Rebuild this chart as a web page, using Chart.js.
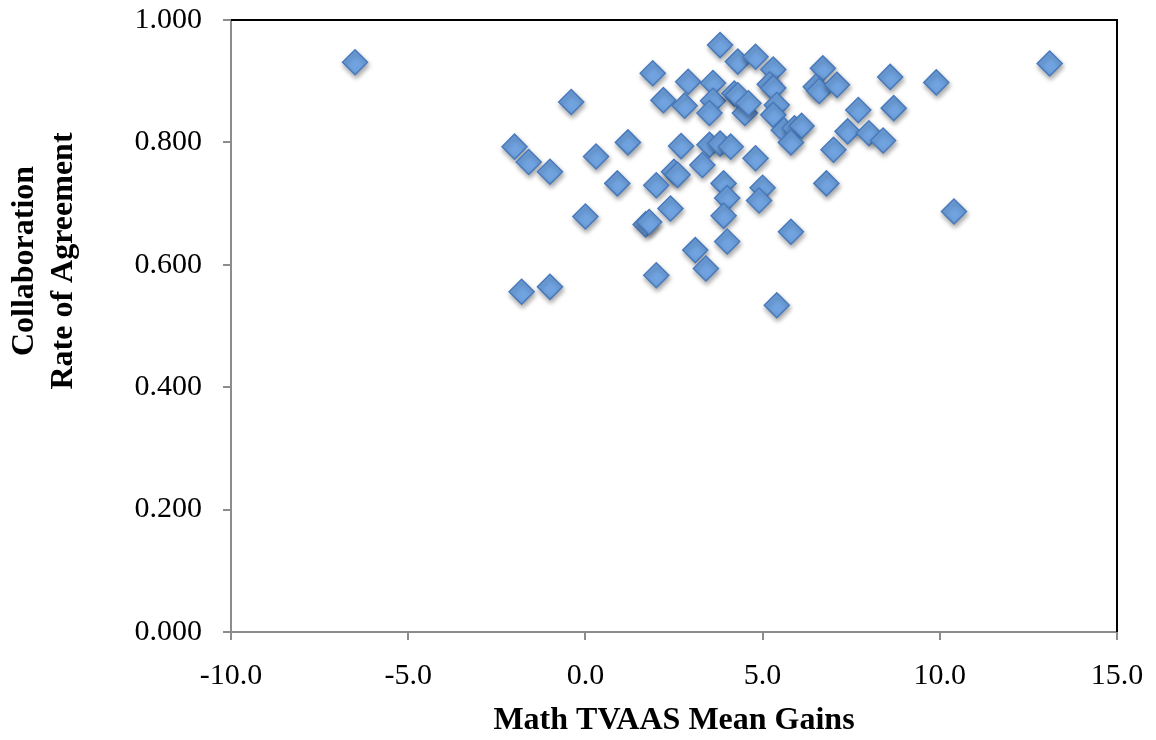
<!DOCTYPE html>
<html>
<head>
<meta charset="utf-8">
<script src="https://cdn.jsdelivr.net/npm/chart.js@4.4.0/dist/chart.umd.min.js"></script>
<style>
  html, body { margin: 0; padding: 0; background: #fff; }
  #wrap { width: 1156px; height: 740px; }
</style>
</head>
<body>
<div id="wrap"><canvas id="myChart" width="1156" height="740"></canvas></div>
<script>
// x: Math TVAAS mean gains, y: collaboration rate of agreement
var gains = [
  -6.5, 13.1, 9.9, 10.4, -0.4, 1.9, 3.8, 2.9, 3.6, 2.2,
  2.8, 3.6, 3.5, -2.0, -1.6, -1.0, 1.2, 0.3, 0.9, 2.7,
  3.5, 3.3, 2.5, 2.6, 2.0, 2.4, 0.0, 1.7, 1.8, 3.1,
  3.4, 2.0, -1.8, -1.0, 4.3, 4.8, 5.3, 5.2, 5.3, 6.7,
  6.5, 6.6, 7.1, 8.6, 4.2, 4.3, 4.5, 4.6, 5.4, 5.3,
  5.6, 5.9, 6.1, 5.8, 7.7, 7.4, 8.0, 8.4, 8.7, 7.0,
  6.8, 3.8, 4.1, 4.8, 3.9, 4.0, 5.0, 4.9, 3.9, 4.0,
  5.8, 5.4
];
var agreement = [
  0.931, 0.929, 0.898, 0.687, 0.866, 0.913, 0.959, 0.899, 0.897, 0.869,
  0.860, 0.868, 0.848, 0.793, 0.768, 0.752, 0.800, 0.777, 0.733, 0.794,
  0.796, 0.763, 0.752, 0.747, 0.730, 0.692, 0.679, 0.666, 0.670, 0.624,
  0.594, 0.583, 0.556, 0.564, 0.932, 0.940, 0.919, 0.895, 0.889, 0.921,
  0.891, 0.884, 0.894, 0.907, 0.880, 0.877, 0.848, 0.864, 0.861, 0.845,
  0.820, 0.823, 0.827, 0.800, 0.853, 0.818, 0.815, 0.803, 0.856, 0.788,
  0.733, 0.798, 0.793, 0.774, 0.733, 0.709, 0.726, 0.705, 0.680, 0.638,
  0.654, 0.534
];
var xTicks = [-10, -5, 0, 5, 10, 15];
var yTicks = [0, 0.2, 0.4, 0.6, 0.8, 1.0];

var xTitle = "Math TVAAS Mean Gains";
var yTitle = ["Collaboration", "Rate of Agreement"];

var serif = '"Liberation Serif", "Times New Roman", serif';
var axisGray = "#8c8c8c";

var points = gains.map(function (g, i) {
  return { x: g, y: agreement[i] };
});

// soft shadow under the diamonds
var shadowPlugin = {
  id: "markerShadow",
  beforeDatasetsDraw: function (chart) {
    var c = chart.ctx;
    c.save();
    c.shadowColor = "rgba(0,0,0,0.35)";
    c.shadowBlur = 5;
    c.shadowOffsetX = 1;
    c.shadowOffsetY = 3;
  },
  afterDatasetsDraw: function (chart) {
    chart.ctx.restore();
  },
};

// black frame on top/right + axis titles
var framePlugin = {
  id: "frameAndTitles",
  afterDraw: function (chart) {
    var c = chart.ctx;
    var a = chart.chartArea;
    c.save();
    c.strokeStyle = "#000";
    c.lineWidth = 2;
    c.beginPath();
    c.moveTo(a.left, a.top);
    c.lineTo(a.right, a.top);
    c.lineTo(a.right, a.bottom);
    c.stroke();

    c.fillStyle = "#000";
    c.font = "bold 32px " + serif;
    c.textAlign = "center";
    c.textBaseline = "middle";
    c.fillText(xTitle, (a.left + a.right) / 2, 721);

    c.translate(0, 261);
    c.rotate(-Math.PI / 2);
    c.fillText(yTitle[0], 0, 25);
    c.fillText(yTitle[1], 0, 64);
    c.restore();
  },
};

new Chart(document.getElementById("myChart"), {
  type: "scatter",
  data: {
    datasets: [
      {
        data: points,
        pointStyle: "rectRot",
        pointRadius: 12.5,
        pointHoverRadius: 12.5,
        backgroundColor: "rgb(112,163,224)",
        borderColor: "rgb(72,122,188)",
        borderWidth: 1.5,
      },
    ],
  },
  options: {
    responsive: false,
    animation: false,
    layout: { padding: { top: 20, right: 39, left: 0, bottom: 0 } },
    plugins: {
      legend: { display: false },
      tooltip: { enabled: false },
    },
    scales: {
      x: {
        type: "linear",
        min: -10,
        max: 15,
        afterBuildTicks: function (scale) {
          scale.ticks = xTicks.map(function (v) { return { value: v }; });
        },
        afterFit: function (scale) {
          scale.height = 108;
          scale.paddingLeft = 0;
          scale.paddingRight = 0;
        },
        ticks: {
          padding: 18,
          color: "#000",
          font: { family: serif, size: 30 },
          maxRotation: 0,
          callback: function (v) { return Number(v).toFixed(1); },
        },
        grid: {
          drawOnChartArea: false,
          tickLength: 8,
          color: axisGray,
          lineWidth: 2,
        },
        border: { color: axisGray, width: 2 },
      },
      y: {
        type: "linear",
        min: 0,
        max: 1,
        afterBuildTicks: function (scale) {
          scale.ticks = yTicks.map(function (v) { return { value: v }; });
        },
        afterFit: function (scale) {
          scale.width = 231;
          scale.paddingTop = 0;
          scale.paddingBottom = 0;
        },
        ticks: {
          padding: 21,
          color: "#000",
          font: { family: serif, size: 30 },
          callback: function (v) { return Number(v).toFixed(3); },
        },
        grid: {
          drawOnChartArea: false,
          tickLength: 8,
          color: axisGray,
          lineWidth: 2,
        },
        border: { color: axisGray, width: 2 },
      },
    },
  },
  plugins: [shadowPlugin, framePlugin],
});
</script>
</body>
</html>
